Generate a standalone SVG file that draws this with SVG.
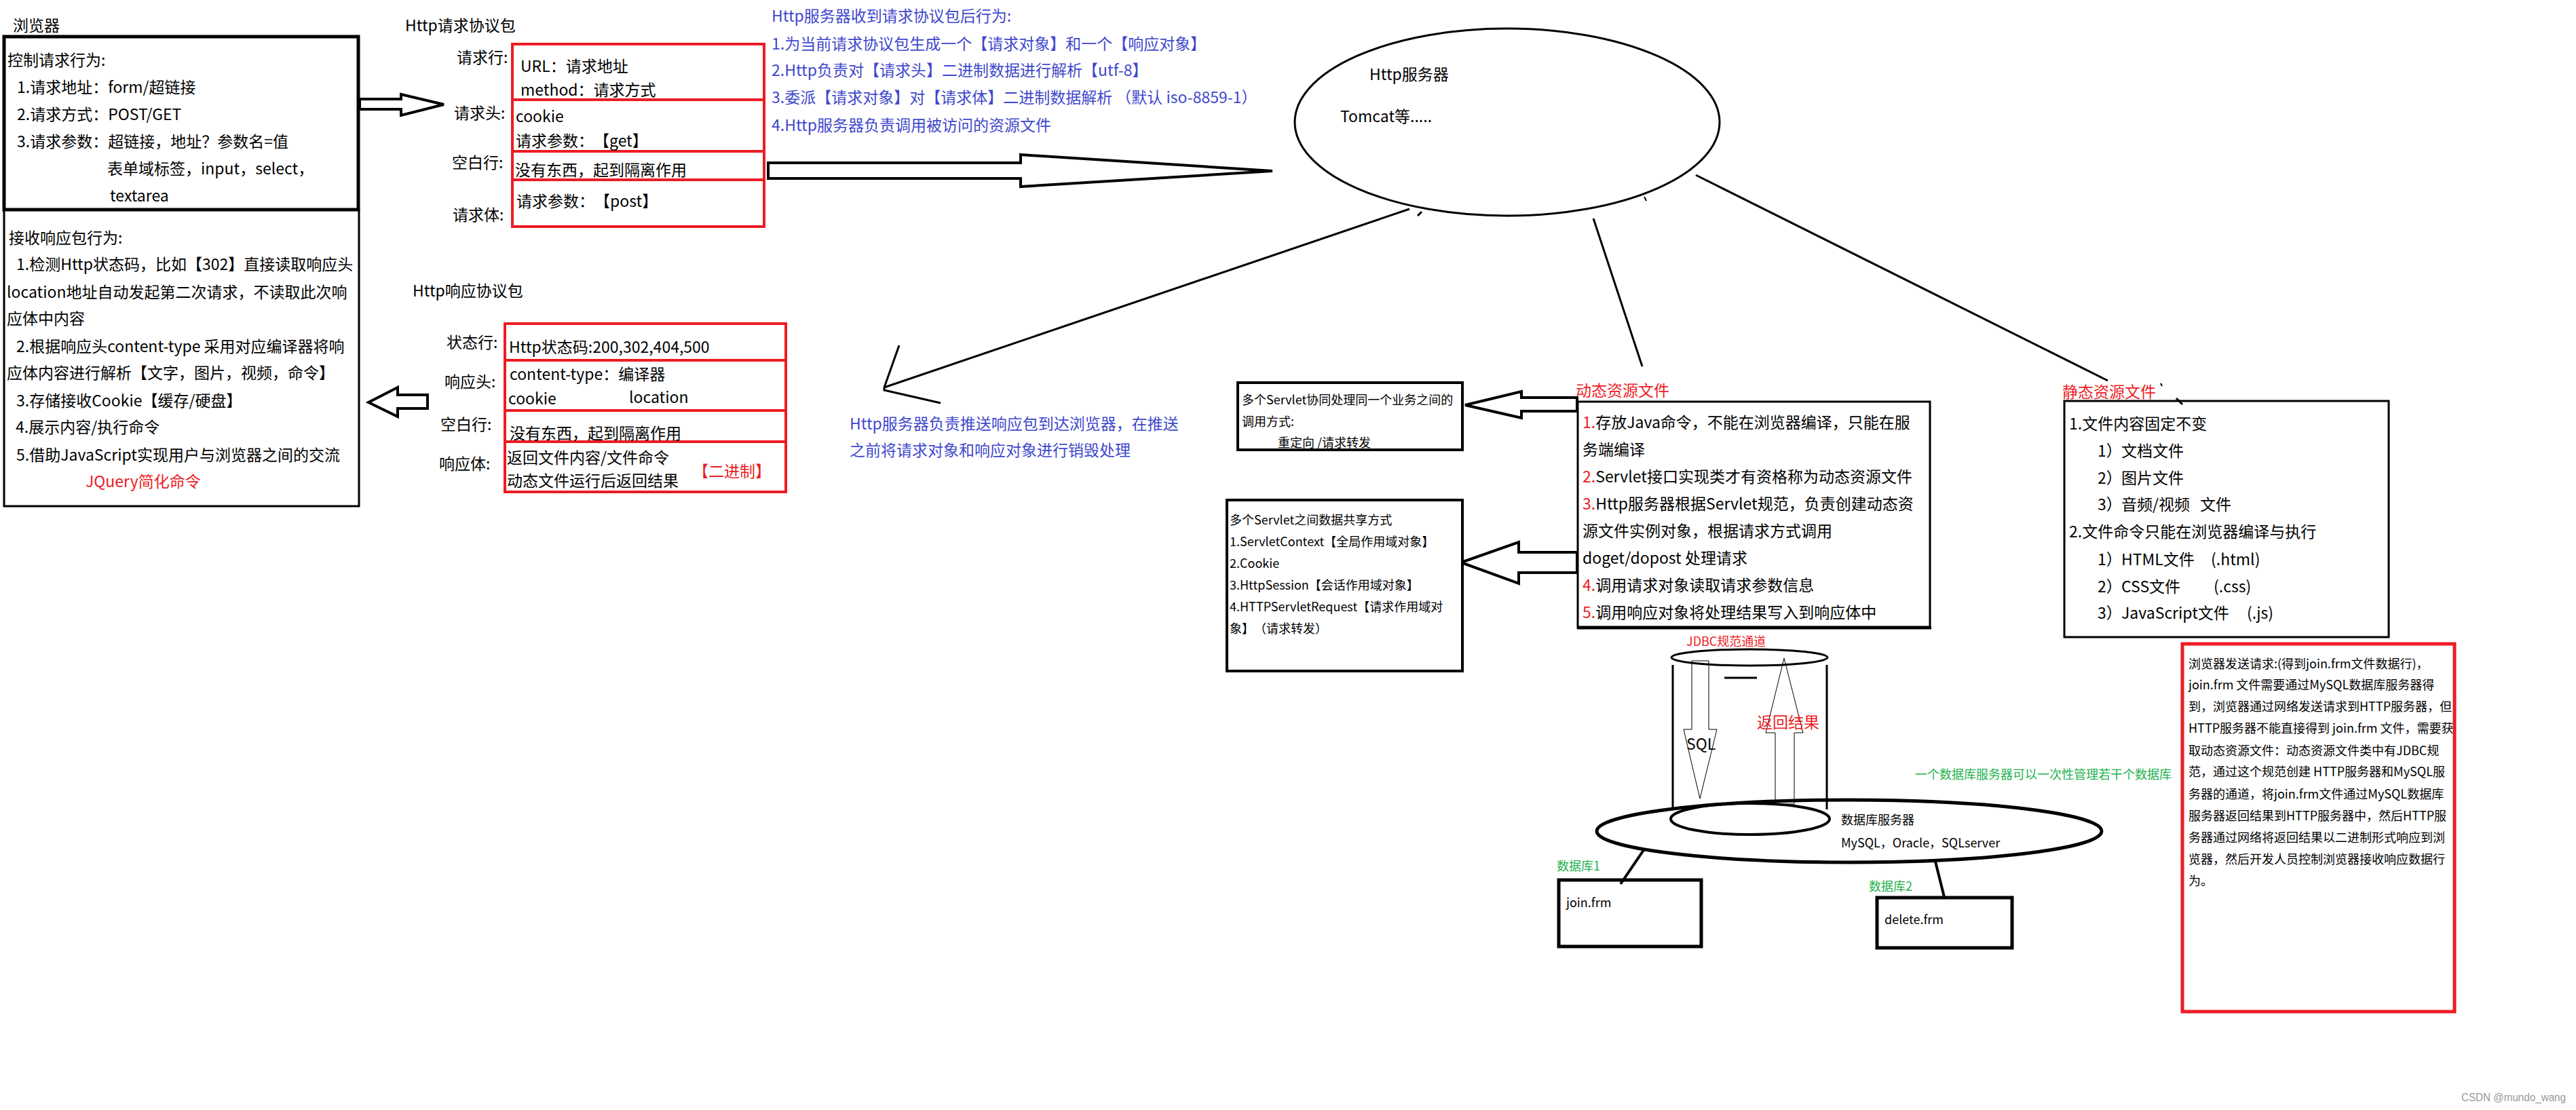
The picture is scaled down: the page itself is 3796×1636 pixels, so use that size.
<svg xmlns="http://www.w3.org/2000/svg" width="3796" height="1636" viewBox="0 0 3796 1636">
<style>
text{font-family:"Noto Sans CJK SC","Liberation Sans",sans-serif;fill:#000;white-space:pre;text-spacing-trim:space-all}
.t24{font-size:23px}.t23{font-size:23px}.t18{font-size:18px}
.blue{fill:#3f48cc}.red{fill:#ed1c24}.green{fill:#22b14c}
.box{fill:#fff;stroke:#000;stroke-width:4}
.rbox{fill:none;stroke:#ed1c24;stroke-width:4}
.ar{fill:#fff;stroke:#000;stroke-width:4}
.ln{fill:none;stroke:#000;stroke-width:3}
.thin{fill:none;stroke:#000;stroke-width:1}
</style>
<rect width="3796" height="1636" fill="#fff"/>
<g id="connectors">
<polygon class="ar" points="530,146 591,146 591,139 654,154 591,170 591,161 530,161"/>
<polygon class="ar" points="543,593 586,571 586,582 630,582 630,602 586,602 586,614"/>
<polygon class="ar" points="1132,240 1504,240 1504,228 1875,252 1504,275 1504,263 1132,263"/>
<polyline class="ln" points="2077,308 1303,571"/>
<polyline class="ln" points="1325,509 1303,571 1303,575 1386,594"/>
<line class="ln" x1="2095" y1="312" x2="2089" y2="318"/>
<line class="ln" x1="2348" y1="322" x2="2420" y2="540"/>
<line class="ln" x1="2499" y1="258" x2="3106" y2="561"/>
<line class="ln" style="stroke-width:2" x1="2423" y1="290" x2="2426" y2="296"/>
<line class="ln" style="stroke-width:2" x1="3184" y1="565" x2="3186" y2="569"/>
<line class="ln" x1="3207" y1="587" x2="3216" y2="596"/>
<polygon class="ar" points="2159,597 2242,577 2242,586 2324,586 2324,606 2242,606 2242,616"/>
<polygon class="ar" points="2153,829 2238,799 2238,814 2324,814 2324,844 2238,844 2238,860"/>
<line class="ln" style="stroke-width:4" x1="2422" y1="1253" x2="2388" y2="1303"/>
<line class="ln" style="stroke-width:4" x1="2852" y1="1270" x2="2865" y2="1322"/>
</g>
<g id="browser-title"><text class="t23" x="19" y="46">浏览器</text></g>
<g id="browser-request">
<rect class="box" style="stroke-width:5" x="6" y="54" width="522" height="255"/>
<text class="t24" x="11" y="97">控制请求行为:</text>
<text class="t24" x="25" y="137">1.请求地址&#xFF1A;form/超链接</text>
<text class="t24" x="25" y="177">2.请求方式&#xFF1A;POST/GET</text>
<text class="t24" x="25" y="217">3.请求参数&#xFF1A;超链接&#xFF0C;地址&#xFF1F;参数名=值</text>
<text class="t24" x="158" y="257">表单域标签&#xFF0C;input&#xFF0C;select&#xFF0C;</text>
<text class="t24" x="162" y="297">textarea</text>
</g>
<g id="browser-response">
<rect class="box" style="stroke-width:3" x="6" y="310" width="523" height="436"/>
<text class="t24" x="13" y="359">接收响应包行为:</text>
<text class="t24" x="24" y="398">1.检测Http状态码&#xFF0C;比如【302】直接读取响应头</text>
<text class="t24" x="10" y="439">location地址自动发起第二次请求&#xFF0C;不读取此次响</text>
<text class="t24" x="10" y="478">应体中内容</text>
<text class="t24" x="24" y="519">2.根据响应头content-type 采用对应编译器将响</text>
<text class="t24" x="10" y="558">应体内容进行解析【文字&#xFF0C;图片&#xFF0C;视频&#xFF0C;命令】</text>
<text class="t24" x="24" y="599">3.存储接收Cookie【缓存/硬盘】</text>
<text class="t24" x="23" y="638">4.展示内容/执行命令</text>
<text class="t24" x="24" y="679">5.借助JavaScript实现用户与浏览器之间的交流</text>
<text class="t24 red" x="126" y="718">JQuery简化命令</text>
</g>
<g id="request-packet">
<text class="t24" x="597" y="46">Http请求协议包</text>
<text class="t24" x="673" y="93">请求行:</text>
<text class="t24" x="669" y="175">请求头:</text>
<text class="t24" x="666" y="248">空白行:</text>
<text class="t24" x="667" y="325">请求体:</text>
<rect class="rbox" x="755" y="65" width="371" height="269"/>
<path class="rbox" d="M755 147H1126M755 223H1128M755 265H1126"/>
<text class="t24" x="767" y="106">URL&#xFF1A;请求地址</text>
<text class="t24" x="767" y="141">method&#xFF1A;请求方式</text>
<text class="t24" x="760" y="180">cookie</text>
<text class="t24" x="760" y="216">请求参数&#xFF1A;【get】</text>
<text class="t24" x="759" y="259">没有东西&#xFF0C;起到隔离作用</text>
<text class="t24" x="761" y="305">请求参数&#xFF1A;【post】</text>
</g>
<g id="response-packet">
<text class="t24" x="608" y="437">Http响应协议包</text>
<text class="t24" x="658" y="513">状态行:</text>
<text class="t24" x="655" y="571">响应头:</text>
<text class="t24" x="649" y="634">空白行:</text>
<text class="t24" x="647" y="692">响应体:</text>
<rect class="rbox" x="744" y="477" width="414" height="248"/>
<path class="rbox" d="M744 531H1158M744 605H1160M744 651H1158"/>
<text class="t24" x="750" y="520">Http状态码:200,302,404,500</text>
<text class="t24" x="751" y="560">content-type&#xFF1A;编译器</text>
<text class="t24" x="749" y="596">cookie</text>
<text class="t24" x="927" y="594">location</text>
<text class="t24" x="751" y="647">没有东西&#xFF0C;起到隔离作用</text>
<text class="t24" x="747" y="683">返回文件内容/文件命令</text>
<text class="t24" x="747" y="717">动态文件运行后返回结果</text>
<text class="t24 red" x="1021" y="703">【二进制】</text>
</g>
<g id="server-behavior">
<text class="t24 blue" x="1137" y="32">Http服务器收到请求协议包后行为:</text>
<text class="t24 blue" x="1137" y="73">1.为当前请求协议包生成一个【请求对象】和一个【响应对象】</text>
<text class="t24 blue" x="1137" y="112">2.Http负责对【请求头】二进制数据进行解析【utf-8】</text>
<text class="t24 blue" x="1137" y="152">3.委派【请求对象】对【请求体】二进制数据解析 &#xFF08;默认 iso-8859-1&#xFF09;</text>
<text class="t24 blue" x="1137" y="193">4.Http服务器负责调用被访问的资源文件</text>
</g>
<g id="http-server">
<ellipse cx="2221" cy="180" rx="313" ry="138" fill="none" stroke="#000" stroke-width="3"/>
<text class="t24" x="2018" y="118">Http服务器</text>
<text class="t24" x="1975" y="180">Tomcat等.....</text>
</g>
<g id="response-note">
<text class="t24 blue" x="1252" y="633">Http服务器负责推送响应包到达浏览器&#xFF0C;在推送</text>
<text class="t24 blue" x="1252" y="672">之前将请求对象和响应对象进行销毁处理</text>
</g>
<g id="servlet-call">
<rect class="box" x="1824" y="564" width="331" height="99"/>
<text class="t18" x="1830" y="596">多个Servlet协同处理同一个业务之间的</text>
<text class="t18" x="1830" y="628">调用方式:</text>
<text class="t18" x="1883" y="659">重定向 /请求转发</text>
</g>
<g id="servlet-share">
<rect class="box" x="1808" y="737" width="347" height="252"/>
<text class="t18" x="1812" y="773">多个Servlet之间数据共享方式</text>
<text class="t18" x="1812" y="805">1.ServletContext【全局作用域对象】</text>
<text class="t18" x="1812" y="837">2.Cookie</text>
<text class="t18" x="1812" y="869">3.HttpSession【会话作用域对象】</text>
<text class="t18" x="1812" y="901">4.HTTPServletRequest【请求作用域对</text>
<text class="t18" x="1812" y="933">象】&#xFF08;请求转发&#xFF09;</text>
</g>
<g id="dynamic-resource">
<text class="t23 red" x="2322" y="584">动态资源文件</text>
<rect class="box" style="fill:none;stroke-width:3" x="2325" y="592" width="519" height="333"/>
<line class="ln" style="stroke-width:5" x1="2324" y1="925" x2="2846" y2="925"/>
<text class="t24" x="2332" y="631"><tspan class="red">1.</tspan>存放Java命令&#xFF0C;不能在浏览器编译&#xFF0C;只能在服</text>
<text class="t24" x="2332" y="671">务端编译</text>
<text class="t24" x="2332" y="711"><tspan class="red">2.</tspan>Servlet接口实现类才有资格称为动态资源文件</text>
<text class="t24" x="2332" y="751"><tspan class="red">3.</tspan>Http服务器根据Servlet规范&#xFF0C;负责创建动态资</text>
<text class="t24" x="2332" y="791">源文件实例对象&#xFF0C;根据请求方式调用</text>
<text class="t24" x="2332" y="831">doget/dopost 处理请求</text>
<text class="t24" x="2332" y="871"><tspan class="red">4.</tspan>调用请求对象读取请求参数信息</text>
<text class="t24" x="2332" y="911"><tspan class="red">5.</tspan>调用响应对象将处理结果写入到响应体中</text>
</g>
<g id="static-resource">
<text class="t23 red" x="3039" y="586">静态资源文件</text>
<rect class="box" style="fill:none;stroke-width:3" x="3042" y="591" width="478" height="348"/>
<text class="t23" x="3049" y="633">1.文件内容固定不变</text>
<text class="t23" x="3091" y="673">1&#xFF09;<tspan x="3126">文档文件</tspan></text>
<text class="t23" x="3091" y="713">2&#xFF09;<tspan x="3126">图片文件</tspan></text>
<text class="t23" x="3091" y="752">3&#xFF09;<tspan x="3126">音频/视频</tspan><tspan x="3242">文件</tspan></text>
<text class="t23" x="3049" y="792">2.文件命令只能在浏览器编译与执行</text>
<text class="t23" x="3091" y="833">1&#xFF09;<tspan x="3126">HTML文件</tspan><tspan x="3258">(.html)</tspan></text>
<text class="t23" x="3091" y="873">2&#xFF09;<tspan x="3126">CSS文件</tspan><tspan x="3262">(.css)</tspan></text>
<text class="t23" x="3091" y="912">3&#xFF09;<tspan x="3126">JavaScript文件</tspan><tspan x="3311">(.js)</tspan></text>
</g>
<g id="jdbc-channel">
<text class="t18 red" x="2485" y="952">JDBC规范通道</text>
<ellipse cx="2578" cy="969" rx="115" ry="12" fill="none" stroke="#000" stroke-width="3"/>
<path class="ln" d="M2465 980V1193M2692 980V1193"/>
<line class="ln" x1="2541" y1="999" x2="2589" y2="999"/>
<polygon class="thin" points="2493,974 2518,974 2518,1075 2530,1075 2505,1177 2481,1075 2493,1075"/>
<polygon class="thin" points="2629,970 2657,1080 2644,1080 2644,1185 2616,1185 2616,1080 2602,1080"/>
<text class="t24" x="2485" y="1105">SQL</text>
<text class="t24 red" x="2589" y="1073">返回结果</text>
</g>
<g id="db-server">
<ellipse cx="2725" cy="1225" rx="372" ry="46" fill="none" stroke="#000" stroke-width="5"/>
<ellipse cx="2579" cy="1207" rx="117" ry="23" fill="none" stroke="#000" stroke-width="4"/>
<text class="t18" x="2713" y="1215">数据库服务器</text>
<text class="t18" x="2713" y="1249">MySQL&#xFF0C;Oracle&#xFF0C;SQLserver</text>
</g>
<g id="db-note"><text class="t18 green" x="2822" y="1148">一个数据库服务器可以一次性管理若干个数据库</text></g>
<g id="db1">
<text class="t18 green" x="2294" y="1283">数据库1</text>
<rect class="box" style="fill:none;stroke-width:5" x="2297" y="1297" width="210" height="98"/>
<text class="t18" x="2308" y="1337">join.frm</text>
</g>
<g id="db2">
<text class="t18 green" x="2754" y="1313">数据库2</text>
<rect class="box" style="fill:none;stroke-width:5" x="2766" y="1323" width="199" height="74"/>
<text class="t18" x="2777" y="1362">delete.frm</text>
</g>
<g id="summary">
<rect class="rbox" style="stroke-width:5" x="3216" y="949" width="401" height="542"/>
<text class="t18" x="3225" y="985">浏览器发送请求:(得到join.frm文件数据行)&#xFF0C;</text>
<text class="t18" x="3225" y="1016">join.frm 文件需要通过MySQL数据库服务器得</text>
<text class="t18" x="3225" y="1048">到&#xFF0C;浏览器通过网络发送请求到HTTP服务器&#xFF0C;但</text>
<text class="t18" x="3225" y="1080">HTTP服务器不能直接得到 join.frm 文件&#xFF0C;需要获</text>
<text class="t18" x="3225" y="1113">取动态资源文件&#xFF1A;动态资源文件类中有JDBC规</text>
<text class="t18" x="3225" y="1144">范&#xFF0C;通过这个规范创建 HTTP服务器和MySQL服</text>
<text class="t18" x="3225" y="1177">务器的通道&#xFF0C;将join.frm文件通过MySQL数据库</text>
<text class="t18" x="3225" y="1209">服务器返回结果到HTTP服务器中&#xFF0C;然后HTTP服</text>
<text class="t18" x="3225" y="1241">务器通过网络将返回结果以二进制形式响应到浏</text>
<text class="t18" x="3225" y="1273">览器&#xFF0C;然后开发人员控制浏览器接收响应数据行</text>
<text class="t18" x="3225" y="1305">为。</text>
</g>
<g id="watermark"><text x="3627" y="1623" textLength="154" lengthAdjust="spacingAndGlyphs" style="font-family:'Liberation Sans',sans-serif;font-size:16px;fill:#999">CSDN @mundo_wang</text></g>
</svg>
